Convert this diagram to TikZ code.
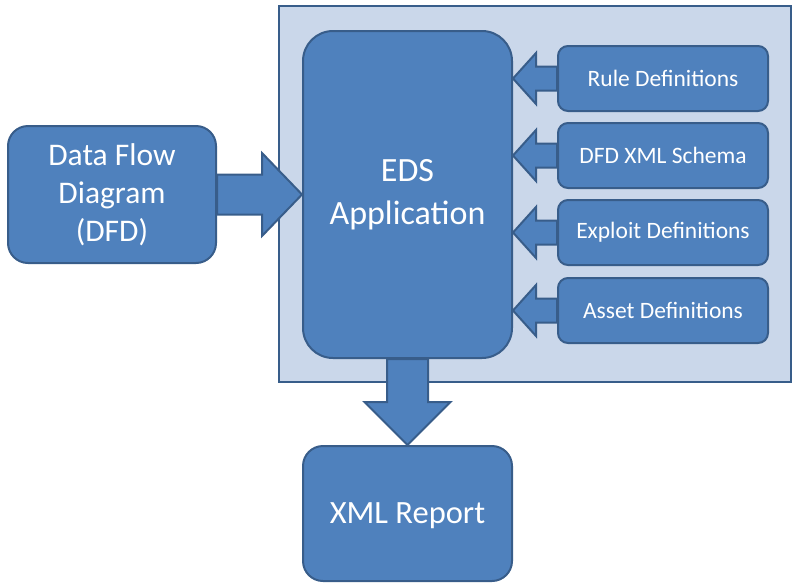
\documentclass[tikz,border=0pt]{standalone}
\usepackage{fontspec}
\setmainfont{Carlito}
\usetikzlibrary{calc}
\definecolor{boxfill}{HTML}{4F81BD}
\definecolor{boxline}{HTML}{385D8A}
\definecolor{panelfill}{HTML}{CAD7EA}
\begin{document}
\begin{tikzpicture}[x=1pt,y=-1pt,
  box/.style={draw=boxline, fill=boxfill, line width=2pt, text=white, align=center, inner sep=0pt, anchor=north west},
  bigtext/.style={font=\fontsize{34}{43}\selectfont},
  xmltext/.style={font=\fontsize{32.5}{40}\selectfont},
  midtext/.style={font=\fontsize{31.5}{38}\selectfont},
  smalltext/.style={font=\fontsize{23.5}{28}\selectfont},
  sidebox/.style={box, minimum width=210pt, minimum height=65pt, rounded corners=10pt, smalltext},
  arrowshape/.style={draw=boxline, fill=boxfill, line width=2pt, line join=miter}]
\useasboundingbox (0,0) rectangle (797,587);
\node[draw=boxline, fill=panelfill, line width=1.5pt, minimum width=512pt, minimum height=376pt, anchor=north west, inner sep=0pt] (panel) at (278,5) {};
\node[box, minimum width=209pt, minimum height=327pt, rounded corners=30pt, bigtext] (eds) at (302,30) {EDS\\Application};
\node[box, minimum width=208pt, minimum height=137pt, rounded corners=20pt, midtext] (dfd) at (7,125) {Data Flow\\Diagram\\(DFD)};
\node[box, minimum width=209pt, minimum height=135pt, rounded corners=20pt, xmltext, text depth=0pt] (xml) at (302,445) {XML Report};
\node[sidebox] (rule) at (557,45) {Rule Definitions};
\node[sidebox] (schema) at (557,122) {DFD XML Schema};
\node[sidebox] (exploit) at (557,199) {Exploit Definitions};
\node[sidebox] (asset) at (557,277) {Asset Definitions};
% DFD -> EDS
\draw[arrowshape] let \p1=(dfd.east), \p2=(eds.west) in
  (\x1,\y1-20) -- (\x2-40,\y1-20) -- (\x2-40,\y1-41.5) -- (\x2,\y1) -- (\x2-40,\y1+41.5) -- (\x2-40,\y1+20) -- (\x1,\y1+20) -- cycle;
% side boxes -> EDS
\foreach \s in {rule,schema,exploit,asset}{
  \draw[arrowshape] let \p1=(\s.west), \p2=(eds.east) in
    (\x1,\y1-12) -- (\x2+23,\y1-12) -- (\x2+23,\y1-25.5) -- (\x2,\y1) -- (\x2+23,\y1+25.5) -- (\x2+23,\y1+12) -- (\x1,\y1+12) -- cycle;
}
% EDS -> XML
\draw[arrowshape] let \p1=(eds.south), \p2=(xml.north) in
  (\x1-20.5,\y1) -- (\x1-20.5,\y2+43) -- (\x1-43,\y2+43) -- (\x1,\y2) -- (\x1+43,\y2+43) -- (\x1+20.5,\y2+43) -- (\x1+20.5,\y1) -- cycle;
\end{tikzpicture}
\end{document}
